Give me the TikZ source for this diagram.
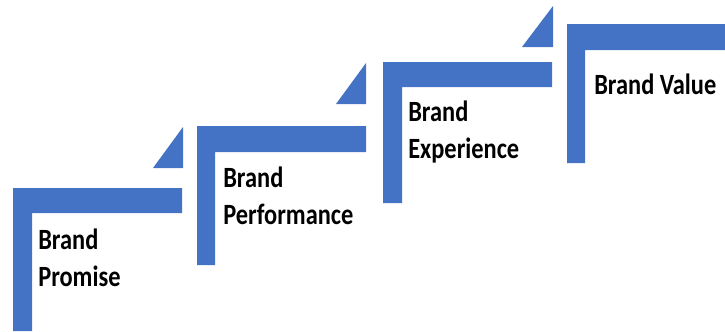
\documentclass[tikz,border=0pt]{standalone}
\usepackage{fontspec}
\usepackage{tikz}
\newfontfamily\stepfont[FakeStretch=0.83]{Carlito}
\definecolor{stepblue}{HTML}{4472C4}
\tikzset{
    stepbar/.style={fill=stepblue, draw=none},
    steptext/.style={anchor=base west, inner sep=0mm, align=left,
        font=\stepfont\bfseries\fontsize{20.9}{26.3}\selectfont}
}

\begin{document}
\begin{tikzpicture}[x=0.025cm, y=-0.025cm]
        \useasboundingbox (0,0) rectangle (725,331);
        % steps
        \fill[stepbar] (13,331) -- (13,188) -- (182,188) -- (182,213) -- (32,213) -- (32,331) -- cycle;
        \fill[stepbar] (153,168) -- (183,168) -- (183,127) -- cycle;
        \fill[stepbar] (197,265) -- (197,126) -- (366,126) -- (366,152) -- (215,152) -- (215,265) -- cycle;
        \fill[stepbar] (336,104) -- (366,104) -- (366,63) -- cycle;
        \fill[stepbar] (383,203) -- (383,62) -- (552,62) -- (552,87) -- (402,87) -- (402,203) -- cycle;
        \fill[stepbar] (522,47) -- (553,47) -- (553,6) -- cycle;
        \fill[stepbar] (567,163) -- (567,24) -- (725,24) -- (725,50) -- (585,50) -- (585,163) -- cycle;
        % labels (base = last line)
        \node (promise) [steptext] at (38,286) {Brand\\Promise};
        \node (performance) [steptext] at (223,224) {Brand\\Performance};
        \node (experience) [steptext] at (408,158) {Brand\\Experience};
        \node (value) [steptext] at (594,94) {Brand Value};
\end{tikzpicture}
\end{document}
